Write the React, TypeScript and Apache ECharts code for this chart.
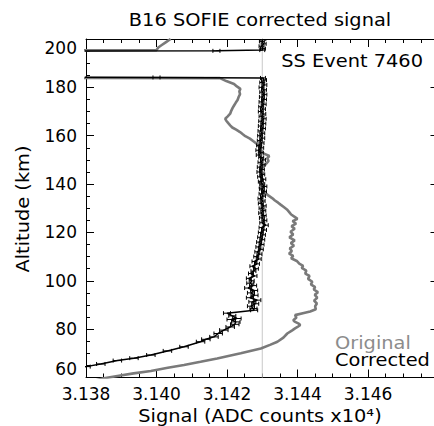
import React, { useEffect, useRef } from "react";
import * as echarts from "echarts";

// Altitude range and signal range
const altMin = 60;
const altMax = 200;
const altInterval = 20;
const sigMin = 3.138;
const sigMax = 3.148;
const sigInterval = 0.002;
const referenceSignal = 3.143;

const titleText = "B16 SOFIE corrected signal";
const eventText = "SS Event 7460";
const xName = "Signal (ADC counts x10\u2074)";
const yName = "Altitude (km)";
const legendNames = ["Original", "Corrected"];

// corrected signal rows: [altitude km, signal, half error]
const corrected: number[][] = [
  [62.0, 3.137, 0],
  [64.5, 3.138, 0.00012],
  [65.6, 3.13842, 0.00012],
  [67.0, 3.13889, 0.00012],
  [68.0, 3.13936, 0.00012],
  [69.3, 3.13984, 0.00012],
  [71.0, 3.14031, 0.00012],
  [72.7, 3.14078, 0.00012],
  [74.8, 3.14125, 0.00012],
  [75.8, 3.1414, 0.00012],
  [76.8, 3.14163, 0.00012],
  [78.2, 3.14175, 0.00012],
  [79.6, 3.14191, 0.00012],
  [80.9, 3.14209, 0.00012],
  [82.0, 3.14222, 0.00012],
  [83.0, 3.14225, 0.00012],
  [84.0, 3.14212, 0.00012],
  [84.4, 3.14228, 0.00012],
  [85.5, 3.14215, 0.0001],
  [86.6, 3.142, 0.0001],
  [87.8, 3.14277, 0.0001],
  [88.5, 3.14275, 0.0001],
  [89.5, 3.14268, 0.0001],
  [90.5, 3.1428, 0.0001],
  [91.3, 3.14272, 0.0001],
  [92.0, 3.14286, 0.0001],
  [93.0, 3.14265, 0.0001],
  [94.0, 3.14278, 0.0001],
  [95.0, 3.14268, 0.0001],
  [96.0, 3.14277, 0.0001],
  [97.0, 3.1426, 0.0001],
  [98.0, 3.14274, 0.0001],
  [99.0, 3.14266, 0.0001],
  [100, 3.1427, 0.00007],
  [101, 3.14262, 0.00007],
  [102, 3.14278, 0.00007],
  [103, 3.14268, 0.00007],
  [104, 3.14275, 0.00007],
  [105, 3.14282, 0.00007],
  [106, 3.14272, 0.00007],
  [107, 3.14285, 0.00007],
  [108, 3.14278, 0.00007],
  [109, 3.1429, 0.00007],
  [110, 3.14283, 0.00007],
  [111, 3.14292, 0.00007],
  [112, 3.14286, 0.00007],
  [113, 3.14296, 0.00007],
  [114, 3.14289, 0.00007],
  [115, 3.14298, 0.00007],
  [116, 3.14291, 0.00007],
  [117, 3.143, 0.00007],
  [118, 3.14294, 0.00007],
  [119, 3.14302, 0.00007],
  [120, 3.14296, 0.00007],
  [121, 3.14305, 0.00007],
  [122, 3.14298, 0.00007],
  [123, 3.1431, 0.00007],
  [124, 3.143, 0.00007],
  [125, 3.14306, 0.00007],
  [126, 3.14299, 0.00007],
  [127, 3.14304, 0.00007],
  [128, 3.14297, 0.00007],
  [129, 3.14303, 0.00007],
  [130, 3.14298, 0.00007],
  [131, 3.14304, 0.00007],
  [132, 3.14296, 0.00007],
  [133, 3.14301, 0.00007],
  [134, 3.14295, 0.00007],
  [135, 3.14302, 0.00007],
  [136, 3.14298, 0.00007],
  [137, 3.14305, 0.00007],
  [138, 3.14299, 0.00007],
  [139, 3.14306, 0.00007],
  [140, 3.143, 0.00007],
  [141, 3.14296, 0.00007],
  [142, 3.14303, 0.00007],
  [143, 3.14294, 0.00007],
  [144, 3.143, 0.00007],
  [145, 3.14292, 0.00007],
  [146, 3.14299, 0.00007],
  [147, 3.14293, 0.00007],
  [148, 3.14301, 0.00007],
  [149, 3.14295, 0.00007],
  [150, 3.14302, 0.00007],
  [151, 3.14297, 0.00007],
  [152, 3.1429, 0.00007],
  [153, 3.14296, 0.00007],
  [154, 3.14289, 0.00007],
  [155, 3.14297, 0.00007],
  [156, 3.14291, 0.00007],
  [157, 3.14298, 0.00007],
  [158, 3.14293, 0.00007],
  [159, 3.143, 0.00007],
  [160, 3.14294, 0.00007],
  [161, 3.143, 0.00007],
  [162, 3.14295, 0.00007],
  [163, 3.14302, 0.00007],
  [164, 3.14296, 0.00007],
  [165, 3.14303, 0.00007],
  [166, 3.14297, 0.00007],
  [167, 3.14304, 0.00007],
  [168, 3.14298, 0.00007],
  [169, 3.14303, 0.00007],
  [170, 3.14296, 0.00007],
  [171, 3.14302, 0.00007],
  [172, 3.14297, 0.00007],
  [173, 3.14304, 0.00007],
  [174, 3.14298, 0.00007],
  [175, 3.14305, 0.00007],
  [176, 3.14299, 0.00007],
  [177, 3.14306, 0.00007],
  [178, 3.143, 0.00007],
  [179, 3.14305, 0.00007],
  [180, 3.14298, 0.00007],
  [181, 3.14306, 0.00007],
  [182, 3.143, 0.00007],
  [183, 3.14305, 0.00007],
  [183.9, 3.14302, 0.00007],
  [184.1, 3.14, 0.0001],
  [184.3, 3.13, 0],
  [194.9, 3.13, 0],
  [195.1, 3.1417, 0.0001],
  [195.4, 3.143, 0.00007],
  [196, 3.14302, 0.00007],
  [197, 3.14298, 0.00007],
  [198, 3.14304, 0.00007],
  [199, 3.14299, 0.00007],
  [200, 3.14303, 0.00007],
];

// original signal rows: [altitude km, signal]
const original: number[][] = [
  [57.0, 3.1378], [59.7, 3.13851], [60.6, 3.13889], [61.7, 3.13935], [62.7, 3.13984],
  [64.0, 3.14032], [65.2, 3.14078], [66.5, 3.14125], [67.9, 3.14172], [70.0, 3.14239],
  [72.0, 3.14296], [73.5, 3.14322], [74.8, 3.14343], [76.5, 3.1436], [78.2, 3.14371],
  [79.5, 3.14385], [80.3, 3.14393], [80.9, 3.144], [81.7, 3.14408], [82.4, 3.14402],
  [83.1, 3.14392], [83.7, 3.14388], [84.8, 3.14397], [85.8, 3.14393], [86.7, 3.14418],
  [87.3, 3.14436], [88.2, 3.14452], [89.5, 3.1445], [90.6, 3.14455], [91.8, 3.14447],
  [93.0, 3.14456], [94.2, 3.14449], [95.3, 3.14458], [96.4, 3.14446], [97.4, 3.1445],
  [98.5, 3.14438], [99.6, 3.14442], [100.8, 3.1443], [102.0, 3.14434], [103.0, 3.14422],
  [104.2, 3.14425], [105.3, 3.14412], [106.2, 3.14416], [107.1, 3.14405], [108.2, 3.14398],
  [109.3, 3.14382], [110.3, 3.14388], [111.2, 3.14376], [112.3, 3.14384], [113.4, 3.14378],
  [114.5, 3.1439], [115.6, 3.14381], [116.7, 3.14392], [118.0, 3.14377], [119.2, 3.14388],
  [120.3, 3.1438], [121.5, 3.14392], [122.6, 3.14383], [123.6, 3.14396], [124.7, 3.14386],
  [125.6, 3.144], [126.3, 3.14393], [127.4, 3.14382], [128.5, 3.14376], [129.5, 3.1437],
  [130.4, 3.14362], [131.5, 3.14352], [132.3, 3.14345], [133.2, 3.14336], [134.2, 3.14328],
  [135.2, 3.14318], [136.2, 3.1431], [137.3, 3.143], [138.5, 3.14292], [139.6, 3.14298],
  [140.8, 3.14293], [142.0, 3.143], [143.2, 3.14294], [144.4, 3.14303], [145.5, 3.14296],
  [146.6, 3.143], [147.6, 3.14306], [148.6, 3.14312], [149.6, 3.14318], [150.6, 3.14314],
  [151.6, 3.1432], [152.6, 3.14305], [153.6, 3.14298], [154.6, 3.14294], [155.6, 3.1429],
  [156.7, 3.14284], [157.8, 3.14274], [158.8, 3.14265], [159.8, 3.14252], [160.7, 3.14244],
  [161.5, 3.14237], [162.5, 3.14226], [163.4, 3.14215], [164.3, 3.14209], [165.3, 3.14203],
  [166.2, 3.14198], [167.0, 3.14195], [168.0, 3.14202], [169.1, 3.14209], [170.3, 3.14212],
  [171.5, 3.14216], [172.5, 3.1422], [173.7, 3.14225], [174.8, 3.1423], [176.0, 3.14233],
  [177.2, 3.14237], [178.3, 3.14235], [179.4, 3.14238], [180.4, 3.14228], [181.4, 3.1422],
  [182.6, 3.14198], [183.8, 3.1418], [184.1, 3.13], [194.9, 3.13], [195.4, 3.14],
  [196.5, 3.14005], [197.5, 3.14015], [198.5, 3.14025], [200.0, 3.1404],
];

const FONT = "DejaVu Sans";
const FS = 17;
const WIDE = 1.14;

export default function App() {
  const ref = useRef<HTMLDivElement>(null);
  useEffect(() => {
    if (!ref.current) return;
    const chart = echarts.init(ref.current, null, { renderer: "svg" });
    const tickCommon = {
      axisLine: { show: true, lineStyle: { color: "#000", width: 1 } },
      axisTick: { show: true, inside: true, length: 8, lineStyle: { color: "#000" } },
      minorTick: { show: true, splitNumber: 4, length: 4, lineStyle: { color: "#000" } },
      splitLine: { show: false },
      minorSplitLine: { show: false },
    };
    const errStyle = { stroke: "#000", lineWidth: 1 };
    const textStyle = (text: string, fill: string, align: string) => ({
      text,
      fill,
      font: `${FS}px "${FONT}"`,
      textAlign: align,
      textVerticalAlign: "middle",
      lineHeight: 14,
    });
    chart.setOption({
      animation: false,
      backgroundColor: "#fff",
      textStyle: { fontFamily: FONT },
      grid: { left: 86, top: 39, right: 21.5, bottom: 48.5 },
      xAxis: [
        {
          type: "value",
          position: "bottom",
          min: sigMin,
          max: sigMax,
          interval: sigInterval,
          ...tickCommon,
          axisLabel: {
            show: true,
            showMaxLabel: false,
            margin: 8,
            color: "#000",
            fontFamily: FONT,
            fontSize: FS,
            formatter: (v: number) => v.toFixed(3),
          },
        },
        {
          type: "value",
          position: "top",
          min: sigMin,
          max: sigMax,
          interval: sigInterval,
          ...tickCommon,
          axisLabel: { show: false },
        },
      ],
      yAxis: [
        {
          type: "value",
          position: "left",
          min: altMin,
          max: altMax,
          interval: altInterval,
          ...tickCommon,
          axisLabel: {
            show: true,
            margin: 9,
            color: "#000",
            fontFamily: FONT,
            fontSize: FS,
            verticalAlignMinLabel: "bottom",
            verticalAlignMaxLabel: "top",
          },
        },
        {
          type: "value",
          position: "right",
          min: altMin,
          max: altMax,
          interval: altInterval,
          ...tickCommon,
          axisLabel: { show: false },
        },
      ],
      series: [
        {
          type: "line",
          name: "reference",
          data: [
            [referenceSignal, altMin],
            [referenceSignal, altMax],
          ],
          showSymbol: false,
          lineStyle: { color: "#c8c8c8", width: 1 },
          z: 1,
          silent: true,
        },
        {
          type: "line",
          name: legendNames[0],
          data: original.map((r) => [r[1], r[0]]),
          showSymbol: false,
          clip: true,
          lineStyle: { color: "#7a7a7a", width: 2.6 },
          z: 2,
        },
        {
          type: "line",
          name: legendNames[1],
          data: corrected.map((r) => [r[1], r[0]]),
          showSymbol: false,
          clip: true,
          lineStyle: { color: "#000", width: 1.5 },
          z: 3,
        },
        {
          type: "custom",
          name: "errors",
          clip: true,
          z: 4,
          encode: { x: 0, y: 1 },
          data: corrected.map((r) => [r[1], r[0], r[2]]),
          renderItem: (_params: any, api: any) => {
            const v = api.value(0);
            const a = api.value(1);
            const e = api.value(2);
            if (!e) return { type: "group", children: [] };
            const p1 = api.coord([v - e, a]);
            const p2 = api.coord([v + e, a]);
            const h = 2;
            return {
              type: "group",
              children: [
                { type: "line", shape: { x1: p1[0], y1: p1[1], x2: p2[0], y2: p2[1] }, style: errStyle },
                { type: "line", shape: { x1: p1[0], y1: p1[1] - h, x2: p1[0], y2: p1[1] + h }, style: errStyle },
                { type: "line", shape: { x1: p2[0], y1: p2[1] - h, x2: p2[0], y2: p2[1] + h }, style: errStyle },
              ],
            };
          },
        },
      ],
      graphic: [
        { type: "text", x: 260, y: 20, scaleX: WIDE, style: textStyle(titleText, "#000", "center") },
        { type: "text", x: 423, y: 61, z: 10, scaleX: WIDE, style: textStyle(eventText, "#000", "right") },
        { type: "text", x: 335, y: 343, scaleX: WIDE, style: textStyle(legendNames[0], "#8c8c8c", "left") },
        { type: "text", x: 335, y: 360, scaleX: WIDE, style: textStyle(legendNames[1], "#000", "left") },
        { type: "text", x: 260, y: 416, scaleX: WIDE, style: textStyle(xName, "#000", "center") },
        {
          type: "text",
          x: 23,
          y: 209,
          rotation: Math.PI / 2,
          scaleX: WIDE,
          style: textStyle(yName, "#000", "center"),
        },
      ],
    });
    return () => chart.dispose();
  }, []);
  return (
    <div
      ref={ref}
      style={{ position: "fixed", left: 0, top: 0, width: 460, height: 426, background: "#fff" }}
    />
  );
}
